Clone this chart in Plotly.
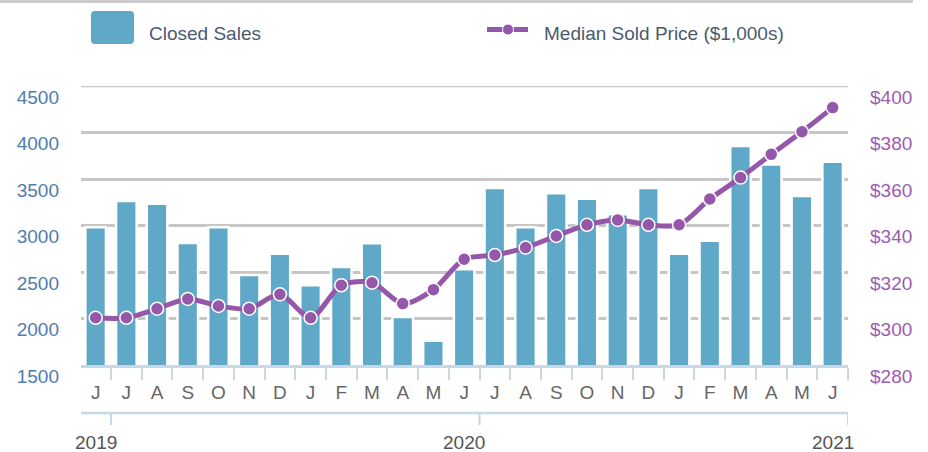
import plotly.graph_objects as go

# ---------------- data ----------------
months = ["J", "J", "A", "S", "O", "N", "D", "J", "F", "M", "A", "M",
          "J", "J", "A", "S", "O", "N", "D", "J", "F", "M", "A", "M", "J"]
closed_sales = [2980, 3263, 3234, 2811, 2980, 2467, 2697, 2357, 2553, 2810, 2016, 1761,
                2529, 3403, 2980, 3346, 3288, 3120, 3403, 2697, 2836, 3854, 3657, 3317, 3686]
median_price = [300.3, 300.3, 304.2, 308.4, 305.4, 304.2, 310.4, 300.3, 314.3, 315.4, 306.4, 312.4,
                325.5, 327.3, 330.5, 335.5, 340.3, 342.4, 340.3, 340.3, 351.4, 360.6, 370.6, 380.3, 390.7]
years = ["2019", "2020", "2021"]
year_index = [0, 12, 24]          # month index under which each year label sits
left_ticks = [1500, 2000, 2500, 3000, 3500, 4000, 4500]
right_ticks = [280, 300, 320, 340, 360, 380, 400]
right_labels = ["$" + str(v) for v in right_ticks]

xs = list(range(len(months)))

# ---------------- styling / layout helpers ----------------
W, H = 928, 452
L, R, T, B = 81, 848, 86, 365
def px(x): return (x - L) / (R - L)
def py(y): return (B - y) / (B - T)

BAR = "#5fa8c8"
PURPLE = "#9557a9"
AXIS = "#c9d8e6"
FONT = "Liberation Sans"

def rounded_rect(x0, y0, x1, y1, r):
    # pixel box -> paper-coordinate SVG path with rounded corners
    P = lambda x, y: f"{px(x):.5f},{py(y):.5f}"
    return (f"M {P(x0 + r, y0)} L {P(x1 - r, y0)} Q {P(x1, y0)} {P(x1, y0 + r)} "
            f"L {P(x1, y1 - r)} Q {P(x1, y1)} {P(x1 - r, y1)} "
            f"L {P(x0 + r, y1)} Q {P(x0, y1)} {P(x0, y1 - r)} "
            f"L {P(x0, y0 + r)} Q {P(x0, y0)} {P(x0 + r, y0)} Z")

fig = go.Figure()
fig.add_bar(x=xs, y=closed_sales, name="Closed Sales",
            marker=dict(color=BAR, line=dict(color="white", width=2.5)),
            showlegend=False, hoverinfo="y")
fig.add_scatter(x=xs, y=median_price, yaxis="y2", name="Median Sold Price ($1,000s)",
                mode="lines+markers",
                line=dict(color=PURPLE, width=5, shape="spline", smoothing=0.8),
                marker=dict(size=13, color=PURPLE, line=dict(color="white", width=1.5)),
                cliponaxis=False, showlegend=False)

shapes = []
# top border line
shapes.append(dict(type="line", xref="paper", yref="paper", x0=px(0), x1=px(913),
                   y0=py(1.5), y1=py(1.5), line=dict(color="#cccccc", width=3)))
# legend: rounded square
shapes.append(dict(type="path", xref="paper", yref="paper",
                   path=rounded_rect(91, 11, 134, 44, 4),
                   fillcolor=BAR, line=dict(width=0)))
# legend: line + dot
shapes.append(dict(type="line", xref="paper", yref="paper", x0=px(487), x1=px(528),
                   y0=py(29.5), y1=py(29.5), line=dict(color=PURPLE, width=5)))
shapes.append(dict(type="circle", xref="paper", yref="paper", x0=px(502.5), x1=px(513.5),
                   y0=py(35), y1=py(24), fillcolor=PURPLE, line=dict(color="white", width=1)))
# top gridline (4500) kept visible at the plot edge
shapes.append(dict(type="line", xref="paper", yref="y", x0=0, x1=1,
                   y0=left_ticks[-1], y1=left_ticks[-1], layer="below",
                   line=dict(color="#c6c6c6", width=2.5)))
# year axis line + ticks
shapes.append(dict(type="line", xref="paper", yref="paper", x0=0, x1=1,
                   y0=py(413), y1=py(413), line=dict(color=AXIS, width=2.5)))
for xi in year_index:
    shapes.append(dict(type="line", xref="x", yref="paper", x0=xi + 0.5, x1=xi + 0.5,
                       y0=py(413), y1=py(425), line=dict(color=AXIS, width=2)))

annotations = [
    dict(text="Closed Sales", xref="paper", yref="paper", x=px(147), y=py(33),
         xanchor="left", yanchor="middle", showarrow=False,
         font=dict(family=FONT, size=19, color="#4a5a6e")),
    dict(text="Median Sold Price ($1,000s)", xref="paper", yref="paper", x=px(542), y=py(33),
         xanchor="left", yanchor="middle", showarrow=False,
         font=dict(family=FONT, size=19, color="#4a5a6e")),
]
for yr, xi in zip(years, year_index):
    annotations.append(dict(text=yr, xref="x", yref="paper", x=xi, y=py(442),
                            xanchor="center", yanchor="middle", showarrow=False,
                            font=dict(family=FONT, size=19, color="#555555")))

fig.update_layout(
    width=W, height=H, autosize=False,
    margin=dict(l=L, r=W - R, t=T, b=H - B, pad=0),
    paper_bgcolor="white", plot_bgcolor="white",
    bargap=0.33,
    showlegend=False,
    font=dict(family=FONT, size=19),
    xaxis=dict(range=[-0.477, len(months) - 0.5], tickmode="array", tickvals=xs, ticktext=months,
               ticks="", showgrid=False, zeroline=False, automargin=False,
               showline=True, linecolor=AXIS, linewidth=2.5,
               tickfont=dict(family=FONT, size=19, color="#666666"),
               ticklabelstandoff=8,
               minor=dict(tickvals=[x + 0.5 for x in xs], ticks="outside", ticklen=12,
                          tickwidth=2, tickcolor=AXIS, showgrid=False)),
    yaxis=dict(range=[left_ticks[0], left_ticks[-1]], tickmode="array", tickvals=left_ticks,
               showgrid=True, gridcolor="#c6c6c6", gridwidth=2.5, zeroline=False,
               showline=False, ticks="", automargin=False,
               tickfont=dict(family=FONT, size=19, color="#4f7cb0"),
               ticklabelstandoff=21, ticklabelshift=11),
    yaxis2=dict(range=[right_ticks[0], right_ticks[-1]], overlaying="y", side="right",
                tickmode="array", tickvals=right_ticks, ticktext=right_labels,
                showgrid=False, zeroline=False, showline=False, ticks="", automargin=False,
                tickfont=dict(family=FONT, size=19, color="#9c5bb4"),
                ticklabelstandoff=21, ticklabelshift=11),
    shapes=shapes,
    annotations=annotations,
)

fig.write_html("out.html", config={"displayModeBar": False},
               post_script="document.body.style.margin='0';")
